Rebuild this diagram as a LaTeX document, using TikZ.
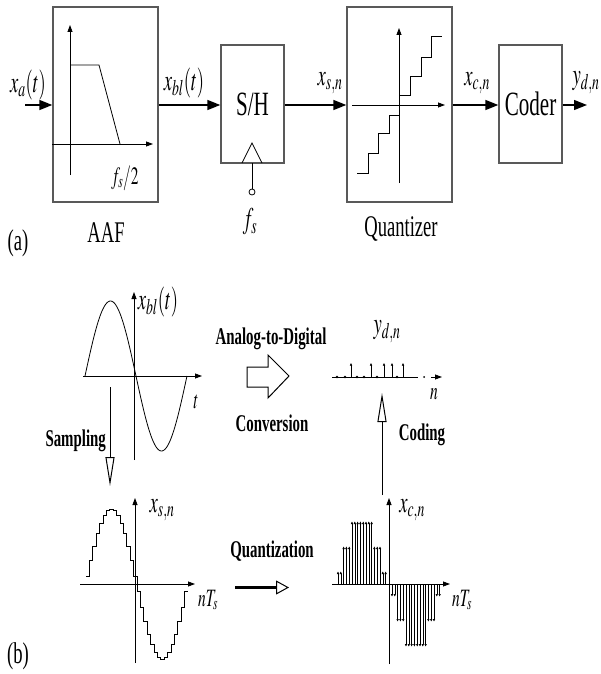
\documentclass[tikz,border=0pt]{standalone}
\usepackage{mathptmx}
\usepackage{fontspec}
\setmainfont{Liberation Serif}
\usetikzlibrary{arrows.meta}

\begin{document}
\begin{tikzpicture}[x=1pt,y=-1pt,
        lbl/.style={xscale=0.62,inner sep=0pt},
        big/.style={lbl,font=\fontsize{34}{34}\selectfont},
        mid/.style={lbl,font=\fontsize{30}{30}\selectfont},
        sym/.style={lbl,font=\fontsize{30}{30}\selectfont},
        small/.style={lbl,font=\fontsize{25}{25}\selectfont},
        bold/.style={lbl,font=\fontsize{24}{24}\selectfont\bfseries},
        blk/.style={draw=black!65,line width=1.4pt,inner sep=0pt},
        sig/.style={line width=1.4pt,-{Triangle[length=13pt,width=10pt]}},
        ax/.style={line width=0.8pt,-{Triangle[length=7pt,width=5pt]}},
        hollow/.style={line width=1pt,-{Triangle[open,length=29pt,width=9pt]}},
        tip/.style={line width=0.5pt,-{Triangle[length=2.5pt,width=2.2pt]}}]
\useasboundingbox (0,0) rectangle (600,674);

% (a) the chain of blocks
\node[blk,minimum width=105pt,minimum height=195pt] (aaf) at (105.5,104.5) {};
\node[blk,minimum width=63pt,minimum height=118pt] (sh) at (252.5,104) {};
\node[big] at (sh) {S/H};
\node[blk,minimum width=105pt,minimum height=195pt] (quant) at (399.5,104.5) {};
\node[blk,minimum width=63pt,minimum height=118pt] (coder) at (530.5,104) {};
\node[big] at (coder) {Coder};

\coordinate (in) at (25,105);
\coordinate (out) at (587,105);
\draw[sig] (in) -- (aaf.west |- in);
\draw[sig] (aaf.east |- in) -- (sh.west |- in);
\draw[sig] (sh.east |- in) -- (quant.west |- in);
\draw[sig] (quant.east |- in) -- (coder.west |- in);
\draw[sig] (coder.east |- in) -- (out);

\node[sym] (xa) at (28,85) {$x_a(t)$};
\node[sym] (xbl) at (184,83) {$x_{bl}(t)$};
\node[sym] (xsn) at (330,83) {$x_{s,n}$};
\node[sym] (xcn) at (477,83) {$x_{c,n}$};
\node[sym] (ydn) at (586,83) {$y_{d,n}$};
\node[mid] (aafl) at (106,233) {AAF};
\node[mid] (quantl) at (401,229) {Quantizer};
\node[mid] (la) at (18,243) {(a)};

% filter response
\draw[ax] (70,175) -- (70,25);
\draw[ax] (aaf.west |- 0,144) -- (153,144);
\draw[line width=0.8pt] (70,65) -- (99,65) -- (120,144);
\node[small] (fs2) at (125,178) {$f_s/2$};

% clock input
\draw[line width=0.8pt] (242,163) -- (252,143) -- (262,163);
\draw[line width=0.8pt] (252,163) -- (252,189);
\draw[line width=0.8pt] (252,192) circle (3);
\node[sym] (fs) at (250,222) {$f_s$};

% quantizer curve
\draw[ax] (399,183) -- (399,28);
\draw[ax] (352,105) -- (445,105);
\draw[line width=0.8pt] (399,105) -- (399,95) -- (410,95) -- (410,76) -- (421,76)
    -- (421,57) -- (431,57) -- (431,36) -- (442,36);
\draw[line width=0.8pt] (399,105) -- (399,115) -- (389,115) -- (389,133) -- (378,133)
    -- (378,153) -- (368,153) -- (368,173) -- (357,173);

% (b) the signals
\draw[ax] (134,460) -- (134,292);
\draw[ax] (83,376) -- (202,376);
\draw[line width=0.8pt] plot[domain=0:360,samples=80,smooth] ({85+\x*0.2833},{376-75*sin(\x)});
\node[sym] (xblb) at (158,302) {$x_{bl}(t)$};
\node[small] (tl) at (196,402) {$t$};

\coordinate (samp0) at (110,387);
\coordinate (samp1) at (110,486);
\draw[hollow] (samp0) -- (samp1);
\node[bold,anchor=east] (sampl) at (106,441) {Sampling};

\node[bold] (adc1) at (271,339) {Analog-to-Digital};
\node[bold] (adc2) at (272,423) {Conversion};
\draw[line width=1pt] (247,367) -- (268,367) -- (268,355) -- (289,376) -- (268,398)
    -- (268,387) -- (247,387) -- cycle;

% sampled signal
\draw[ax] (135,663) -- (135,498);
\draw[ax] (80,584) -- (195,584);
\draw[line width=0.8pt] plot[const plot,domain=0:29,samples=30] ({86+3.4*\x},{584-75*sin(12*\x+6)}) -- ++(3.4,0);
\node[sym] (xsnb) at (162,510) {$x_{s,n}$};
\node[small] (nts1) at (208,600) {$nT_s$};

\node[bold] (quantz) at (272,551) {Quantization};
\coordinate (q0) at (235,587.5);
\coordinate (q1) at (289,587.5);
\draw[line width=2.2pt,-{Triangle[open,length=13pt,width=14pt,line width=1pt]}] (q0) -- (q1);

% quantized signal
\draw[ax] (389,664) -- (389,498);
\draw[ax] (332,584) -- (450,584);
\foreach \k in {0,...,17} {
    \pgfmathsetmacro\q{25*(floor(70*sin(10*\k+5)/25)+0.5)}
    \draw[tip] (338+2.8*\k,584) -- (338+2.8*\k,584-\q);
}
\foreach \k in {18,...,35} {
    \pgfmathsetmacro\q{25*(floor(70*sin(10*\k+5)/25)+0.5)}
    \draw[tip] (392+2.8*\k-50.4,584) -- (392+2.8*\k-50.4,584-\q);
}
\node[sym] (xcnb) at (412,510) {$x_{c,n}$};
\node[small] (nts2) at (462,600) {$nT_s$};

\coordinate (cod0) at (382,495);
\coordinate (cod1) at (382,393);
\draw[hollow] (cod0) -- (cod1);
\node[bold] (codl) at (422,435) {Coding};

% coded output
\draw[line width=0.8pt] (332,377) -- (418,377);
\fill (424,377) circle (1);
\draw[ax] (431,377) -- (442,377);
\foreach \p in {337,345,357,364,377,397}
    \fill (\p,377) circle (1.3);
\foreach \p in {351,371,384,392,403}
    \draw[tip] (\p,377) -- (\p,363);
\node[sym] (ydnb) at (387,332) {$y_{d,n}$};
\node[small] (nl) at (434,394) {$n$};

\node[mid] (lb) at (18,656) {(b)};
\end{tikzpicture}
\end{document}
